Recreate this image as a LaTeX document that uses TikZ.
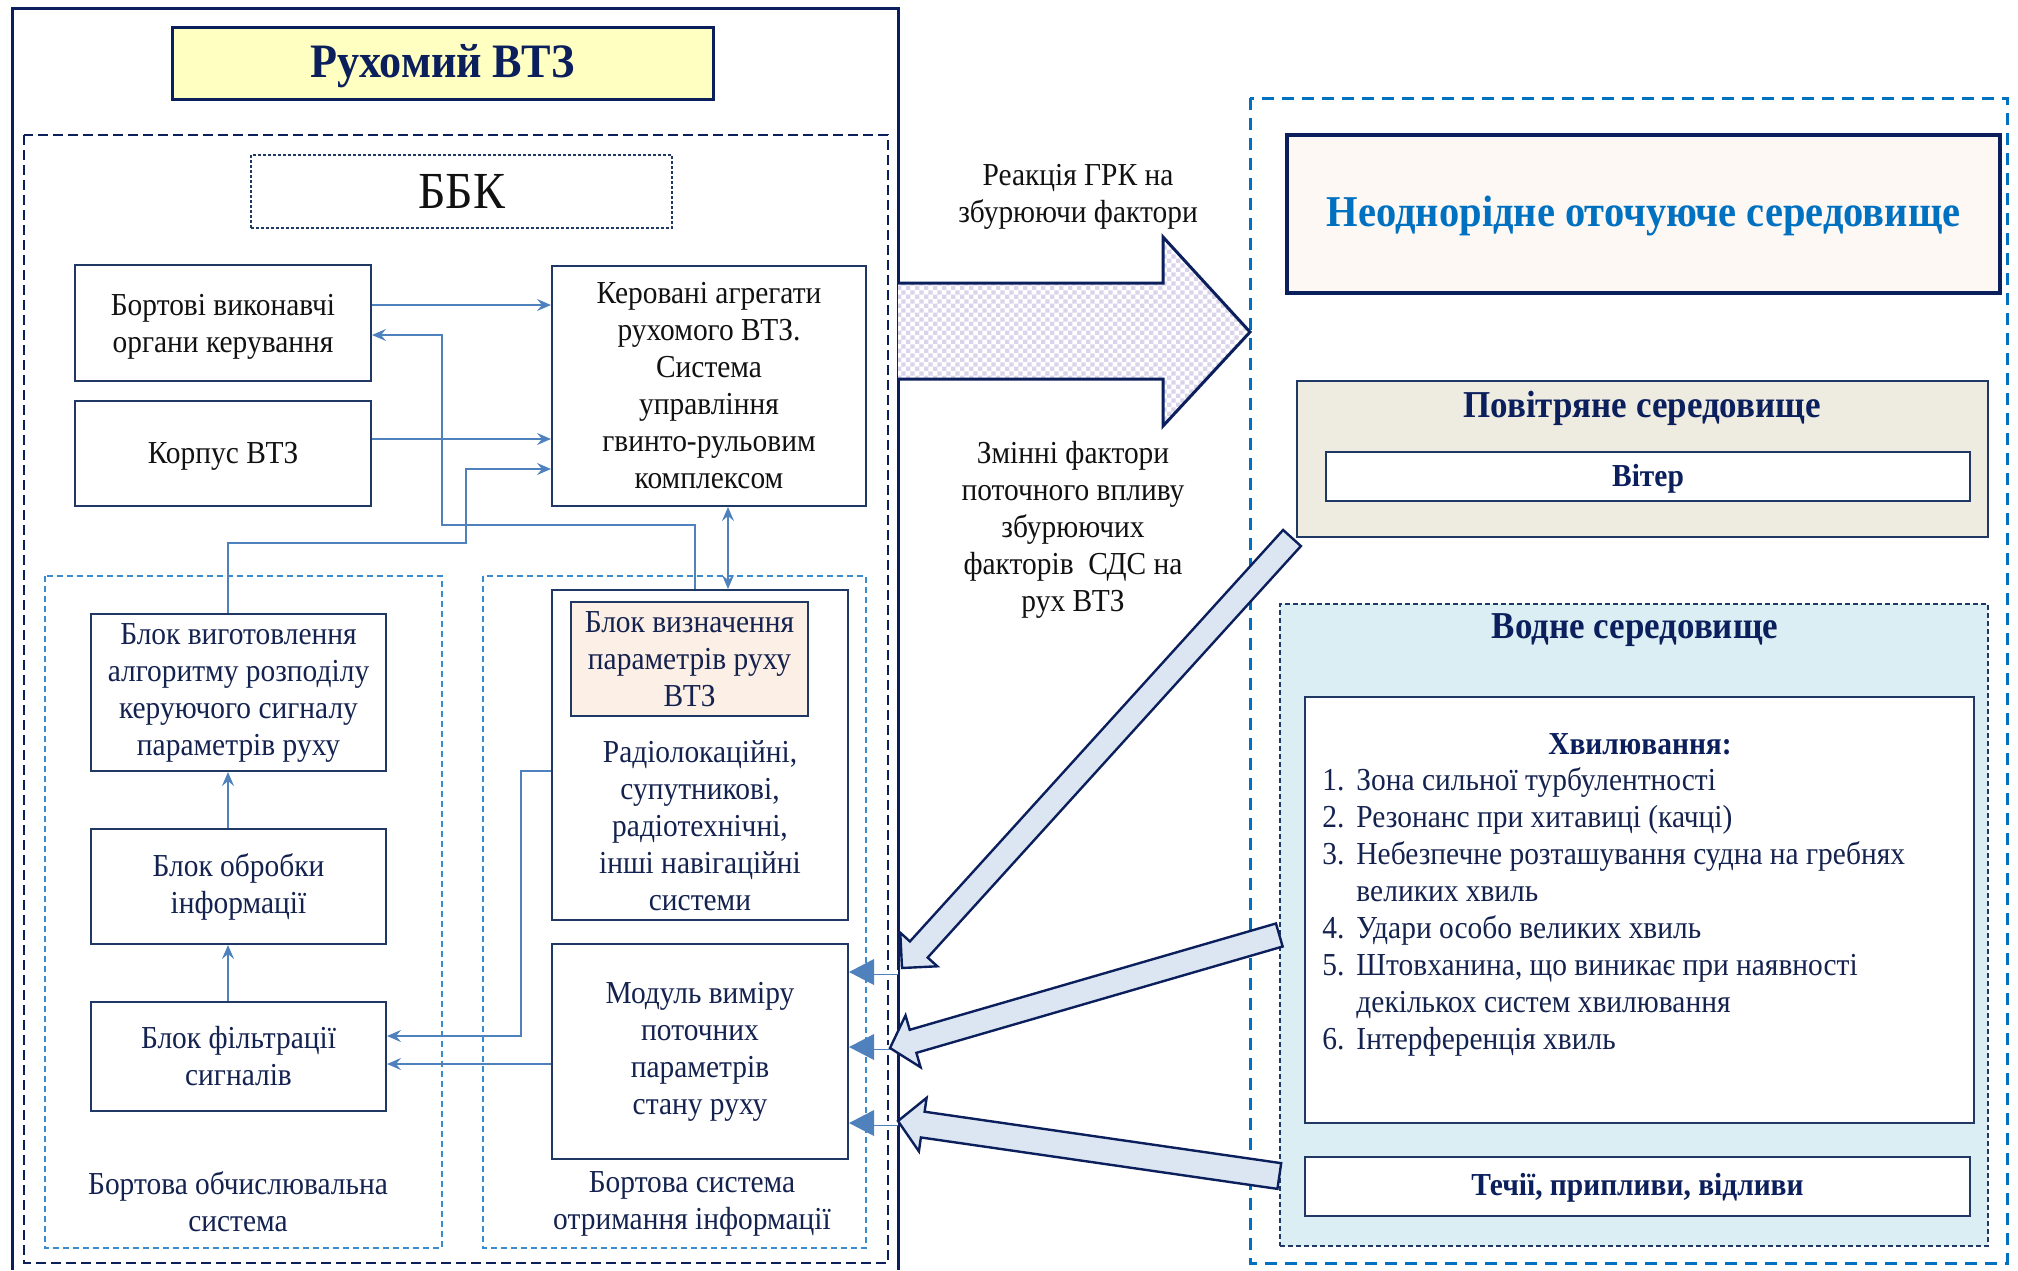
\documentclass[tikz,border=0pt]{standalone}
\usepackage{fontspec}
\setmainfont{Liberation Serif}[FakeStretch=0.92]
\usetikzlibrary{calc,arrows.meta,patterns}

\definecolor{navy}{HTML}{1F3864}
\definecolor{deepnavy}{HTML}{0B1F5C}
\definecolor{connblue}{HTML}{4F81BD}
\definecolor{skyline}{HTML}{3A8AD0}
\definecolor{envblue}{HTML}{0070C0}
\definecolor{arrowfill}{HTML}{DCE6F2}
\definecolor{waterfill}{HTML}{DAEEF3}
\definecolor{airfill}{HTML}{EEECE1}
\definecolor{peach}{HTML}{FCEFE6}
\definecolor{cream}{HTML}{FDF8F4}
\definecolor{titleyellow}{HTML}{FFFFC2}
\definecolor{lavender}{HTML}{DAD3EA}
\definecolor{ink}{HTML}{111111}
\definecolor{inknavy}{HTML}{14224F}

% fine checkerboard for the reaction arrow
\pgfdeclarepatternformonly{finecheck}{\pgfqpoint{0pt}{0pt}}{\pgfqpoint{4.4pt}{4.4pt}}{\pgfqpoint{4.4pt}{4.4pt}}{%
  \pgfpathrectangle{\pgfqpoint{0pt}{0pt}}{\pgfqpoint{2.2pt}{2.2pt}}%
  \pgfpathrectangle{\pgfqpoint{2.2pt}{2.2pt}}{\pgfqpoint{2.2pt}{2.2pt}}%
  \pgfusepath{fill}}

% rectangle node given by its corners (in picture units of 0.5pt)
\newcommand\rectnode[7][]{%
  \pgfmathsetmacro\rnw{(#5-#3)*0.5}%
  \pgfmathsetmacro\rnh{(#6-#4)*0.5}%
  \node[#1, minimum width=\rnw pt, minimum height=\rnh pt] (#2) at ({(#3+#5)/2},{(#4+#6)/2}) {#7};}

% text lowered inside its box without changing the box's centring
\newcommand\lowered[2]{\raisebox{-#1}[\height][\depth]{#2}}

% block arrow: style, tail, tip, half shaft width, half head width, head length
\newcommand\blockarrow[6]{%
  \coordinate (ba-head) at ($(#3)!#6!(#2)$);
  \draw[#1] ($(#2)!#4!90:(#3)$) -- ($(ba-head)!#4!90:(#3)$) -- ($(ba-head)!#5!90:(#3)$)
    -- (#3) -- ($(ba-head)!#5!-90:(#3)$) -- ($(ba-head)!#4!-90:(#3)$) -- ($(#2)!#4!-90:(#3)$) -- cycle;}

\begin{document}
\begin{tikzpicture}[x=0.5pt,y=-0.5pt,
  every node/.style={font=\fontsize{16}{18.5}\selectfont, text=ink},
  box/.style={draw=navy, line width=1pt, inner sep=0pt, align=center},
  navybox/.style={box, text=inknavy},
  label/.style={align=center, inner sep=0pt},
  conn/.style={draw=connblue, line width=0.8pt},
  arr/.style={conn, -{Stealth[length=7pt,width=6pt,inset=2.5pt]}},
  dblarr/.style={conn, {Stealth[length=7pt,width=6pt,inset=2.5pt]}-{Stealth[length=7pt,width=6pt,inset=2.5pt]}},
  subframe/.style={draw=skyline, line width=0.6pt, dash pattern=on 3pt off 2pt},
  bigarrow/.style={fill=arrowfill, draw=deepnavy, line width=1.2pt, line join=miter},
  envtitle/.style={font=\bfseries\fontsize{19}{22}\selectfont, text=deepnavy, inner sep=0pt},
  boldbox/.style={box, fill=white, font=\bfseries\fontsize{16}{18.5}\selectfont, text=deepnavy},
]
\useasboundingbox (0,0) rectangle (2018,1270);

% ---------- vehicle frame ----------
\draw[deepnavy, line width=1.5pt] (12,1270) -- (12,8) -- (898,8) -- (898,1270);
\coordinate (vehE) at (898,0);

\rectnode[draw=deepnavy, line width=1.5pt, fill=titleyellow, inner sep=0pt,
      font=\bfseries\fontsize{24}{28}\selectfont, text=deepnavy]{title}{172}{27}{713}{99}{\lowered{1.5pt}{Рухомий ВТЗ}}

\draw[deepnavy, line width=1.4pt, dash pattern=on 5pt off 2.5pt] (24,135) rectangle (888,1263);

\rectnode[draw=navy, line width=0.6pt, dash pattern=on 1.5pt off 1pt,
      inner sep=0pt, font=\fontsize{26}{30}\selectfont]{bbk}{251}{155}{672}{228}{ББК}

% sub-systems
\draw[subframe] (45,576) rectangle (442,1248);
\draw[subframe] (483,576) rectangle (866,1248);

% ---------- blocks ----------
\rectnode[box]{ispv}{75}{265}{371}{381}{\lowered{2pt}{\begin{tabular}{@{}c@{}}Бортові виконавчі\\органи керування\end{tabular}}}
\rectnode[box]{korp}{75}{401}{371}{506}{\lowered{1.5pt}{Корпус ВТЗ}}
\rectnode[box]{ker}{552}{266}{866}{506}{Керовані агрегати\\рухомого ВТЗ.\\Система\\управління\\гвинто-рульовим\\комплексом}

\rectnode[navybox]{vyg}{91}{614}{386}{771}{Блок виготовлення\\алгоритму розподілу\\керуючого сигналу\\параметрів руху}
\rectnode[navybox]{obr}{91}{829}{386}{944}{Блок обробки\\інформації}
\rectnode[navybox]{filt}{91}{1002}{386}{1111}{Блок фільтрації\\сигналів}

\rectnode[box]{nav}{552}{590}{848}{920}{}
\rectnode[navybox, fill=peach]{param}{571}{602}{808}{716}{Блок визначення\\параметрів руху\\ВТЗ}
\node[label, text=inknavy] (navtxt) at (700,826) {Радіолокаційні,\\супутникові,\\радіотехнічні,\\інші навігаційні\\системи};
\rectnode[navybox]{modul}{552}{944}{848}{1159}{Модуль виміру\\поточних\\параметрів\\стану руху}

\node[label, text=inknavy] (bos) at (238,1202) {Бортова обчислювальна\\система};
\node[label, text=inknavy] (bsi) at (692,1204) {Бортова система\\отримання інформації};

% ---------- connectors ----------
\draw[arr] (ispv.east |- 0,305) -- (ker.west |- 0,305);
\draw[arr] (nav.north -| 695,0) -- (695,525) -- (442,525) -- (442,335) -- (ispv.east |- 0,335);
\draw[arr] (korp.east |- 0,439) -- (ker.west |- 0,439);
\draw[arr] (vyg.north -| 228,0) -- (228,543) -- (466,543) -- (466,469) -- (ker.west |- 0,469);
\draw[dblarr] (ker.south -| 728,0) -- (nav.north -| 728,0);
\draw[arr] (filt.north -| 228,0) -- (obr.south -| 228,0);
\draw[arr] (obr.north -| 228,0) -- (vyg.south -| 228,0);
\draw[arr] (nav.west |- 0,771) -- (521,771) -- (521,1036) -- (filt.east |- 0,1036);
\draw[arr] (modul.west |- 0,1064) -- (filt.east |- 0,1064);

% inputs of the measuring module
\foreach \yy [count=\k] in {972,1047,1123} {
  \coordinate (in\k) at (vehE |- 0,\yy);
  \draw[draw=connblue, line width=0.45pt, double=white, double distance=1.6pt] (in\k) -- ($(modul.east |- in\k)+(24,0)$);
  \fill[connblue] (modul.east |- in\k) -- ++(25,-13) -- ++(0,26) -- cycle;
}

% ---------- environment ----------
\draw[envblue, line width=1.5pt, dash pattern=on 6pt off 4pt] (1250,98) rectangle (2007,1263);
\coordinate (envW) at (1250,0);

\rectnode[fill=cream, draw=deepnavy, line width=1.6pt, inner sep=0pt,
      font=\bfseries\fontsize{22}{26}\selectfont, text=envblue]{env}{1287}{135}{2000}{293}{\lowered{1pt}{Неоднорідне оточуюче середовище}}

\rectnode[fill=airfill, draw=navy, line width=1pt, inner sep=0pt]{air}{1297}{381}{1988}{537}{}
\node[envtitle] (airt) at (1642,408) {Повітряне середовище};
\rectnode[boldbox]{wind}{1326}{452}{1970}{501}{\lowered{1pt}{Вітер}}

\rectnode[fill=waterfill, draw=navy, line width=0.7pt, dash pattern=on 2.5pt off 1.5pt, inner sep=0pt]{water}{1280}{604}{1988}{1246}{}
\node[envtitle] (watert) at (1635,630) {Водне середовище};

\rectnode[box, fill=white]{waves}{1305}{697}{1974}{1123}{}
\node[inner sep=0pt, font=\bfseries\fontsize{16}{18.5}\selectfont, text=deepnavy] (wavest) at (1640,744) {Хвилювання:};
\node[anchor=north west, inner sep=0pt, text=inknavy] (wavelist) at (1322,764) {%
  \begin{tabular}{@{}l@{\hspace{6pt}}l@{}}
  1. & Зона сильної турбулентності\\
  2. & Резонанс при хитавиці (качці)\\
  3. & Небезпечне розташування судна на гребнях\\
     & великих хвиль\\
  4. & Удари особо великих хвиль\\
  5. & Штовханина, що виникає при наявності\\
     & декількох систем хвилювання\\
  6. & Інтерференція хвиль
  \end{tabular}};

\rectnode[boldbox]{curr}{1305}{1157}{1970}{1216}{\lowered{0.5pt}{Течії, припливи, відливи}}

% ---------- interaction arrows ----------
\fill[white] (vehE |- 0,283) -- (1163,283) -- (1163,237) -- (envW |- 0,332) -- (1163,426) -- (1163,379) -- (vehE |- 0,379) -- cycle;
\draw[pattern=finecheck, pattern color=lavender, draw=deepnavy, line width=1.5pt, line join=miter]
  (vehE |- 0,283) -- (1163,283) -- (1163,237) -- (envW |- 0,332) -- (1163,426) -- (1163,379) -- (vehE |- 0,379);

\node[label] (react) at (1078,197) {Реакція ГРК на\\збурюючи фактори};
\node[label] (vary) at (1073,530) {Змінні фактори\\поточного впливу\\збурюючих\\факторів~ СДС на\\рух ВТЗ};

\coordinate (aT) at ($(air.south west)+(-4,0)$);
\coordinate (aP) at ($(vehE |- 0,968)+(4,0)$);
\blockarrow{bigarrow}{aT}{aP}{6pt}{12.5pt}{12.5pt}

\coordinate (bT) at (water.west |- 0,935);
\coordinate (bP) at (890,1048);
\blockarrow{bigarrow}{bT}{bP}{6pt}{13.5pt}{12pt}

\coordinate (cT) at (water.west |- 0,1176);
\coordinate (cP) at (vehE |- 0,1121);
\blockarrow{bigarrow}{cT}{cP}{6.5pt}{13.5pt}{12.5pt}

\end{tikzpicture}
\end{document}
